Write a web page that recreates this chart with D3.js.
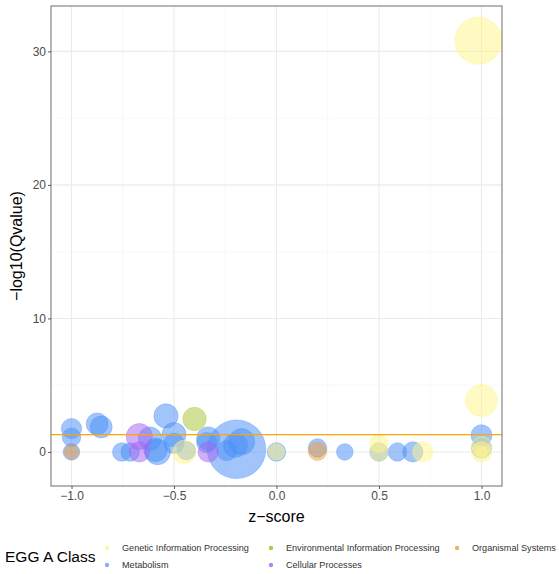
<!DOCTYPE html>
<html><head><meta charset="utf-8">
<script src="https://cdn.jsdelivr.net/npm/d3@7"></script>
<style>body{margin:0;background:#fff}svg{display:block;font-family:"Liberation Sans",Arial,Helvetica,sans-serif}</style>
</head><body><svg id="c" width="559" height="574"></svg>
<script>
// ---- data ----
const classes = ["Genetic Information Processing","Environmental Information Processing","Organismal Systems","Metabolism","Cellular Processes"];
const classColors = ["#fff38a","#a6c838","#f0a040","#4a8ff5","#a463f2"];
const legendColors = ["#fff6a8","#a9cc4a","#f2b264","#8ab2f6","#b484f6"];
// points: z-score, -log10(Qvalue), count, class index (drawing order)
const zscore = [-1.0,-1.0,-1.0,-0.875,-0.855,-0.755,-0.714,-0.617,-0.59,-0.58,-0.539,-0.50,-0.50,-0.44,-0.333,-0.34,-0.195,-0.17,-0.243,-0.2,0.0,0.2,0.333,0.5,0.59,0.665,1.0,1.0,
  -0.669,-0.669,-0.333,
  -0.40,
  0.985,1.0,-0.45,0.0,0.5,0.5,0.713,1.0,1.0,1.0,
  -1.0,0.2];
const qval = [1.75,1.1,0.0,2.1,1.87,0.0,0.0,1.0,0.15,0.0,2.7,1.3,0.65,0.1,1.0,0.7,0.2,0.77,0.1,0.5,0.0,0.3,0.0,0.0,0.0,0.0,1.25,0.3,
  1.15,0.0,0.0,
  2.47,
  30.8,3.85,0.0,0.0,0.65,0.0,0.0,0.4,0.0,0.0,
  0.0,0.05];
const count = [12,10,8,14,14,10,10,16,16,19,17,17,12,10,16,12,100,20,12,17,10,10,8,10,10,12,13,12,
  20,12,12,
  16,
  65,30,16,8,10,10,12,12,12,4,
  6,10];
const klass = [3,3,3,3,3,3,3,3,3,3,3,3,3,3,3,3,3,3,3,3,3,3,3,3,3,3,3,3,
  4,4,4,
  1,
  0,0,0,0,0,0,0,0,0,0,
  2,2];
const xTicks = [-1.0,-0.5,0.0,0.5,1.0];
const xTickLabels = ["\u22121.0","\u22120.5","0.0","0.5","1.0"];
const yTicks = [0,10,20,30];
const threshold = 1.3;

// ---- layout ----
const svg = d3.select("#c");
const L=51,R=502,T=6,B=486;
const x = d3.scaleLinear().domain([-1.1,1.1]).range([L,R]);
const y = d3.scaleLinear().domain([-2.55,33.4]).range([B,T]);
const r = d3.scaleSqrt().domain([0,100]).range([0,29.3]);

const clipId="clip";
svg.append("defs").append("clipPath").attr("id",clipId).append("rect").attr("x",L).attr("y",T).attr("width",R-L).attr("height",B-T);

// grid
const g = svg.append("g");
const xMinor=[-0.75,-0.25,0.25,0.75], yMinor=[5,15,25];
g.selectAll(".xm").data(xMinor).join("line").attr("x1",d=>x(d)).attr("x2",d=>x(d)).attr("y1",T).attr("y2",B).attr("stroke","#f4f4f4").attr("stroke-width",0.6);
g.selectAll(".ym").data(yMinor).join("line").attr("y1",d=>y(d)).attr("y2",d=>y(d)).attr("x1",L).attr("x2",R).attr("stroke","#f4f4f4").attr("stroke-width",0.6);
g.selectAll(".xM").data(xTicks).join("line").attr("x1",d=>x(d)).attr("x2",d=>x(d)).attr("y1",T).attr("y2",B).attr("stroke","#ebebeb").attr("stroke-width",1.1);
g.selectAll(".yM").data(yTicks).join("line").attr("y1",d=>y(d)).attr("y2",d=>y(d)).attr("x1",L).attr("x2",R).attr("stroke","#ebebeb").attr("stroke-width",1.1);

// points
const pts = zscore.map((z,i)=>({z,q:qval[i],c:count[i],k:klass[i]}));
svg.append("g").attr("clip-path",`url(#${clipId})`).selectAll("circle").data(pts).join("circle")
  .attr("cx",d=>x(d.z)).attr("cy",d=>y(d.q)).attr("r",d=>r(d.c))
  .attr("fill",d=>classColors[d.k]).attr("fill-opacity",0.52)
  .attr("stroke",d=>classColors[d.k]).attr("stroke-opacity",0.35).attr("stroke-width",1);

// threshold line
svg.append("line").attr("x1",L).attr("x2",R).attr("y1",y(threshold)).attr("y2",y(threshold)).attr("stroke","#ffa500").attr("stroke-width",1.1);

// border
svg.append("rect").attr("x",L).attr("y",T).attr("width",R-L).attr("height",B-T).attr("fill","none").attr("stroke","#7a7a7a").attr("stroke-width",1.1);

// axes
const xa = svg.append("g").attr("transform",`translate(0,${B})`).call(d3.axisBottom(x).tickValues(xTicks).tickFormat((d,i)=>xTickLabels[i]).tickSize(3).tickPadding(2));
const ya = svg.append("g").attr("transform",`translate(${L},0)`).call(d3.axisLeft(y).tickValues(yTicks).tickSize(3).tickPadding(2));
[xa,ya].forEach(a=>{a.select(".domain").remove();a.selectAll("line").attr("stroke","#333").attr("stroke-width",0.8);a.selectAll("text").attr("fill","#4d4d4d").attr("font-size",12).attr("font-family","Liberation Sans,Arial,sans-serif");});

svg.append("text").attr("x",(L+R)/2).attr("y",522).attr("text-anchor","middle").attr("font-size",16).attr("fill","#000").text("z\u2212score");
svg.append("text").attr("transform",`translate(22,${(T+B)/2}) rotate(-90)`).attr("text-anchor","middle").attr("font-size",16).attr("fill","#000").text("\u2212log10(Qvalue)");

// legend
svg.append("text").attr("x",5).attr("y",562).attr("font-size",15.5).attr("fill","#000").text("EGG A Class");
const legPos=[[107,548],[271,548],[457,548],[107,565],[271,565]];
const lg = svg.append("g").selectAll("g").data(classes).join("g").attr("transform",(d,i)=>`translate(${legPos[i][0]},${legPos[i][1]})`);
lg.append("circle").attr("r",2.2).attr("fill",(d,i)=>legendColors[i]);
lg.append("text").attr("x",15).attr("y",3.3).attr("font-size",9.1).attr("fill","#333").text(d=>d);
</script></body></html>
